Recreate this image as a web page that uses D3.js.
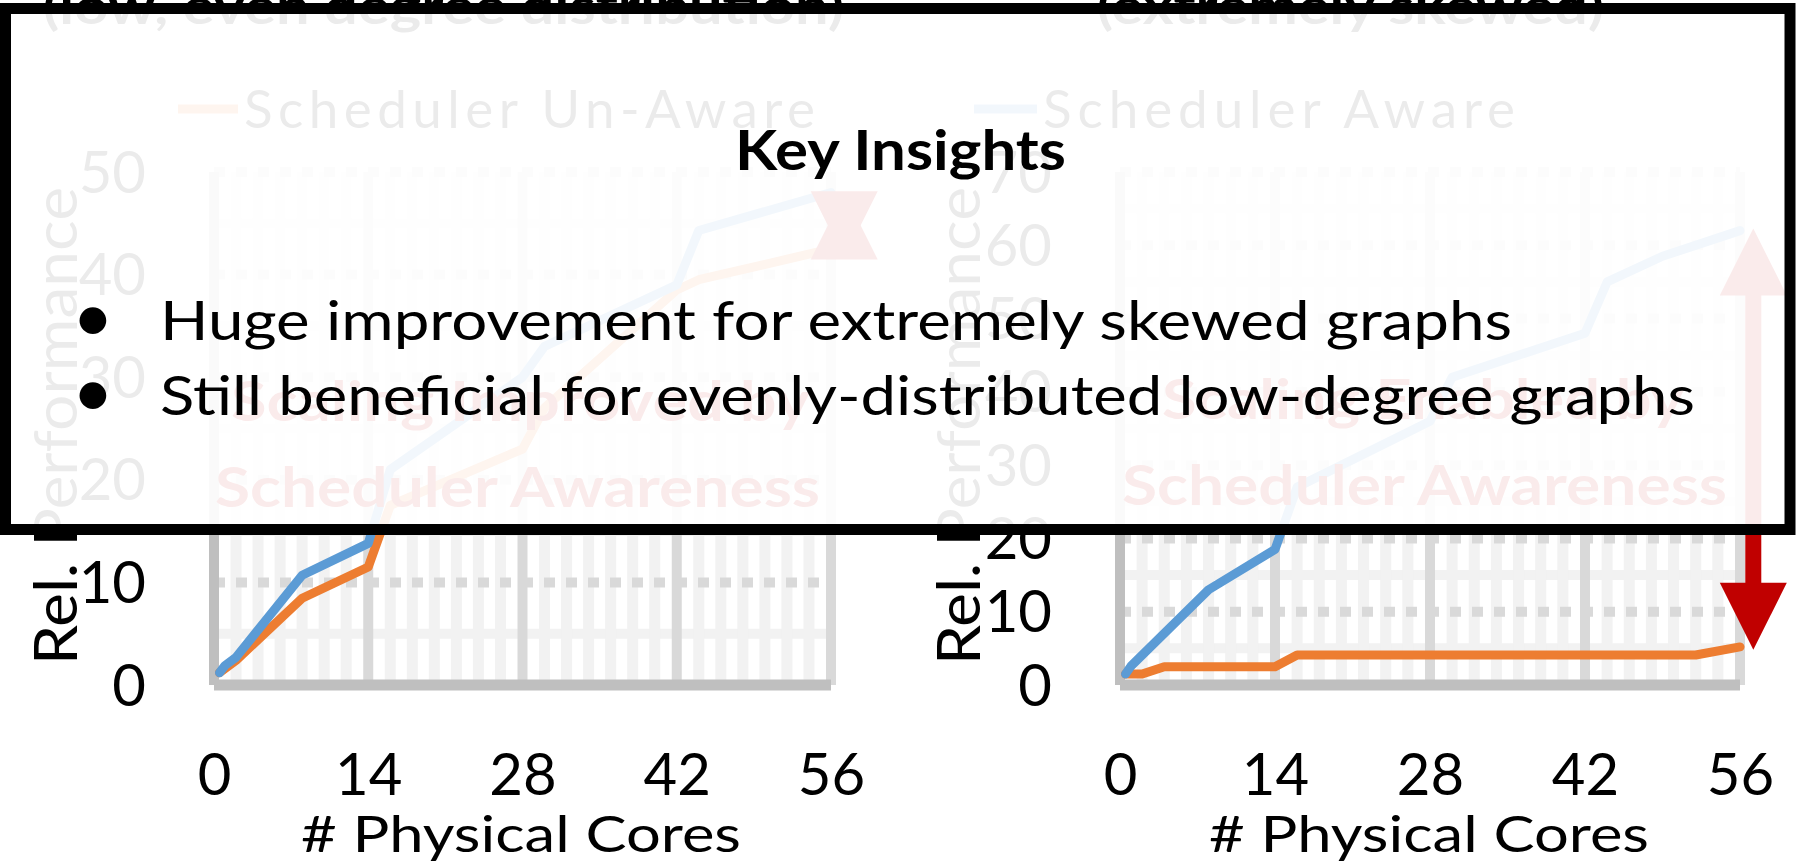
<!DOCTYPE html>
<html><head><meta charset="utf-8">
<script src="https://cdn.jsdelivr.net/npm/d3@7"></script>
<style>html,body{margin:0;padding:0;background:#fff;overflow:hidden}svg{display:block}</style>
</head><body>
<svg id="c" width="1797" height="867"></svg>
<script>
// ---------- data ----------
const xTicks = [0, 14, 28, 42, 56];
const leftYTicks = [0, 10, 20, 30, 40, 50];
const rightYTicks = [0, 10, 20, 30, 40, 50, 60, 70];
const seriesNames = ["Scheduler Un-Aware", "Scheduler Aware"];

// left chart: low, even degree distribution
const leftAwareX   = [0.5, 1, 2, 8, 14, 16, 28, 30, 42, 44, 56];
const leftAwareY   = [1.2, 1.9, 2.7, 10.7, 13.8, 21, 30, 33, 39, 44.3, 48];
const leftUnawareX = [0.5, 2, 8, 14, 16, 28, 30, 42, 44, 56];
const leftUnawareY = [1.2, 2.4, 8.45, 11.5, 17.5, 23, 27, 38.5, 39.5, 42.5];

// right chart: extremely skewed
const rightAwareX   = [0.5, 1, 8, 14, 16, 28, 30, 42, 44, 49, 56];
const rightAwareY   = [1.5, 2.6, 13, 18.5, 27, 36, 42, 48, 55, 58.5, 62];
const rightUnawareX = [0.5, 2, 4, 14, 16, 52, 56];
const rightUnawareY = [1.5, 1.5, 2.5, 2.5, 4.1, 4.1, 5.2];

// gap arrows (value range marked on each chart)
const arrowCore = 57.2;
const arrowTopVals = [48, 62.3];
const arrowBottomVals = [41.6, 4.8];

const titles = ["(low, even degree distribution)", "(extremely skewed)"];
const scalingTexts = ["Scaling Improved by", "Scaling Enabled by"];
const awarenessText = "Scheduler Awareness";
const xTitle = "# Physical Cores";
const yTitle = "Rel. Performance";
const insightTitle = "Key Insights";
const insights = ["Huge improvement for extremely skewed graphs",
                  "Still beneficial for evenly-distributed low-degree graphs"];

// ---------- layout ----------
const FONT = "Lato, 'Open Sans', sans-serif";
const BLUE = "#5B9BD5", ORANGE = "#ED7D31", RED = "#C00000";
const svg = d3.select("#c");

const panels = [
  { xr: [214, 831], yr: [685, 172], ymax: 50, yTicks: leftYTicks,
    aware: d3.zip(leftAwareX, leftAwareY), unaware: d3.zip(leftUnawareX, leftUnawareY),
    title: titles[0], titleX: 43, titleLen: 801,
    legend: { name: seriesNames[0], color: ORANGE, x1: 178, x2: 238, tx: 244, len: 571 },
    scaling: scalingTexts[0], sX: 231, sLen: 579, sY: 421, aX: 215, aY: 507,
    yTitleX: 77, xTitleX: 301, arrowIdx: 0 },
  { xr: [1120, 1740], yr: [685, 172], ymax: 70, yTicks: rightYTicks,
    aware: d3.zip(rightAwareX, rightAwareY), unaware: d3.zip(rightUnawareX, rightUnawareY),
    title: titles[1], titleX: 1097, titleLen: 507,
    legend: { name: seriesNames[1], color: BLUE, x1: 974, x2: 1037, tx: 1043, len: 472 },
    scaling: scalingTexts[1], sX: 1162, sLen: 522, sY: 419, aX: 1122, aY: 505,
    yTitleX: 980, xTitleX: 1209, arrowIdx: 1 }
];

const chartLayer = svg.append("g");

panels.forEach(p => {
  const x = d3.scaleLinear().domain([0, 56]).range(p.xr);
  const y = d3.scaleLinear().domain([0, p.ymax]).range(p.yr);
  const g = chartLayer.append("g");

  // title (second line visible at top)
  g.append("text").attr("x", p.titleX).attr("y", 24)
    .attr("font-family", FONT).attr("font-weight", 700).attr("font-size", 50)
    .attr("textLength", p.titleLen).attr("lengthAdjust", "spacingAndGlyphs")
    .attr("fill", "#000").text(p.title);

  // legend
  g.append("line").attr("x1", p.legend.x1).attr("x2", p.legend.x2).attr("y1", 109).attr("y2", 109)
    .attr("stroke", p.legend.color).attr("stroke-width", 9);
  g.append("text").attr("x", p.legend.tx).attr("y", 128)
    .attr("font-family", FONT).attr("font-size", 53).attr("fill", "#000")
    .attr("textLength", p.legend.len).attr("lengthAdjust", "spacing").text(p.legend.name);

  // minor horizontal gridlines
  g.append("g").selectAll("line").data(d3.range(5, p.ymax, 10)).join("line")
    .attr("x1", x(0)).attr("x2", x(56)).attr("y1", d => y(d)).attr("y2", d => y(d))
    .attr("stroke", "#F2F2F2").attr("stroke-width", 10);
  // minor vertical gridlines
  g.append("g").selectAll("line").data(d3.range(2, 56, 2).filter(v => v % 14)).join("line")
    .attr("x1", d => x(d)).attr("x2", d => x(d)).attr("y1", y(p.ymax)).attr("y2", y(0))
    .attr("stroke", "#F2F2F2").attr("stroke-width", 11);
  // major vertical gridlines
  g.append("g").selectAll("line").data(xTicks.filter(v => v > 0)).join("line")
    .attr("x1", d => x(d)).attr("x2", d => x(d)).attr("y1", y(p.ymax)).attr("y2", y(0))
    .attr("stroke", "#D9D9D9").attr("stroke-width", 10);
  // major horizontal gridlines (dashed)
  g.append("g").selectAll("line").data(p.yTicks.filter(v => v > 0)).join("line")
    .attr("x1", x(0)).attr("x2", x(56)).attr("y1", d => y(d)).attr("y2", d => y(d))
    .attr("stroke", "#D9D9D9").attr("stroke-width", 10).attr("stroke-dasharray", "11,11");
  // axis lines
  g.append("line").attr("x1", x(0)).attr("x2", x(0)).attr("y1", y(p.ymax)).attr("y2", y(0))
    .attr("stroke", "#BFBFBF").attr("stroke-width", 10);
  g.append("line").attr("x1", x(0)).attr("x2", x(56)).attr("y1", y(0)).attr("y2", y(0))
    .attr("stroke", "#BFBFBF").attr("stroke-width", 11);

  // series
  const line = d3.line().x(d => x(d[0])).y(d => y(d[1]));
  [[p.unaware, ORANGE], [p.aware, BLUE]].forEach(([data, col]) => {
    g.append("path").datum(data).attr("d", line).attr("fill", "none")
      .attr("stroke", col).attr("stroke-width", 9)
      .attr("stroke-linejoin", "round").attr("stroke-linecap", "round");
  });

  // axes labels
  const xa = g.append("g").attr("transform", `translate(0,${y(0)})`)
    .call(d3.axisBottom(x).tickValues(xTicks).tickSize(0).tickFormat(d3.format("d")));
  xa.select(".domain").remove();
  xa.selectAll("text").attr("y", 110).attr("dy", null)
    .attr("font-family", FONT).attr("font-size", 58).attr("fill", "#000");
  const ya = g.append("g").attr("transform", `translate(${x(0)},0)`)
    .call(d3.axisLeft(y).tickValues(p.yTicks).tickSize(0).tickFormat(d3.format("d")));
  ya.select(".domain").remove();
  ya.selectAll("text").attr("x", -68).attr("y", 20).attr("dy", null)
    .attr("font-family", FONT).attr("font-size", 58).attr("fill", "#000");

  // axis titles
  g.append("text").attr("x", p.xTitleX).attr("y", 852)
    .attr("font-family", FONT).attr("font-size", 51).attr("fill", "#000")
    .attr("textLength", 440).attr("lengthAdjust", "spacingAndGlyphs").text(xTitle);
  g.append("text").attr("transform", `translate(${p.yTitleX},665) rotate(-90)`)
    .attr("font-family", FONT).attr("font-size", 60).attr("fill", "#000")
    .attr("textLength", 478).attr("lengthAdjust", "spacingAndGlyphs").text(yTitle);

  // annotation text
  g.append("text").attr("x", p.sX).attr("y", p.sY)
    .attr("font-family", FONT).attr("font-weight", 700).attr("font-size", 55).attr("fill", RED)
    .attr("textLength", p.sLen).attr("lengthAdjust", "spacingAndGlyphs").text(p.scaling);
  g.append("text").attr("x", p.aX).attr("y", p.aY)
    .attr("font-family", FONT).attr("font-weight", 700).attr("font-size", 55).attr("fill", RED)
    .attr("textLength", 605).attr("lengthAdjust", "spacingAndGlyphs").text(awarenessText);

  // double arrow
  const ax = x(arrowCore), yt = y(arrowTopVals[p.arrowIdx]), yb = y(arrowBottomVals[p.arrowIdx]);
  const hh = 67, hw = 33.5, sw = 8;
  const ag = g.append("g").attr("fill", RED);
  if (yb - yt > 2 * hh) {
    ag.append("rect").attr("x", ax - sw).attr("y", yt + hh - 1).attr("width", 2 * sw).attr("height", yb - yt - 2 * hh + 2);
  }
  ag.append("path").attr("d", `M${ax},${yt}L${ax + hw},${yt + hh}L${ax - hw},${yt + hh}Z`);
  ag.append("path").attr("d", `M${ax},${yb}L${ax + hw},${yb - hh}L${ax - hw},${yb - hh}Z`);
});

// ---------- overlay box ----------
svg.append("rect").attr("x", 5.5).attr("y", 8.5).attr("width", 1784.5).attr("height", 521)
  .attr("fill", "#fff").attr("fill-opacity", 0.92)
  .attr("stroke", "#000").attr("stroke-width", 11);

svg.append("text").attr("x", 735).attr("y", 170)
  .attr("font-family", FONT).attr("font-weight", 700).attr("font-size", 55).attr("fill", "#000")
  .attr("textLength", 331).attr("lengthAdjust", "spacingAndGlyphs").text(insightTitle);

const insightLens = [1352, 1535];
const insightYs = [340, 415];
insights.forEach((t, i) => {
  svg.append("text").attr("x", 93).attr("y", insightYs[i] + 2).attr("text-anchor", "middle")
    .attr("font-family", FONT).attr("font-size", 72).attr("fill", "#000").text("\u2022");
  svg.append("text").attr("x", 160).attr("y", insightYs[i])
    .attr("font-family", FONT).attr("font-size", 55).attr("fill", "#000")
    .attr("textLength", insightLens[i]).attr("lengthAdjust", "spacingAndGlyphs").text(t);
});
</script>
</body></html>
